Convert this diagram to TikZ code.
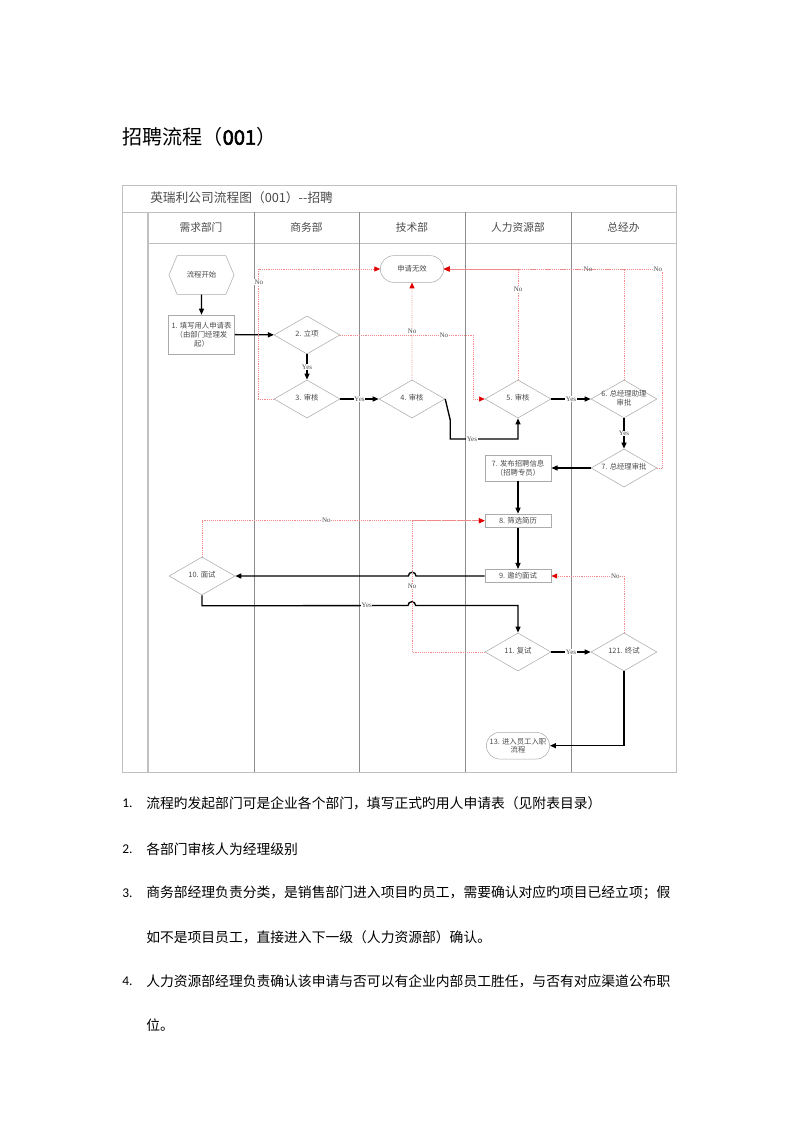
\documentclass[tikz,border=0pt]{standalone}
\usepackage{fontspec}
\setmainfont{Noto Sans CJK SC}[AutoFakeBold=2]
\newfontfamily\numfont{Carlito}
\newfontfamily\lblfont{Liberation Serif}
\usetikzlibrary{arrows.meta}
\usetikzlibrary{calc}
\usetikzlibrary{shapes.geometric, shapes.misc, shapes.symbols}
\definecolor{shapegray}{HTML}{ABABAB}
\definecolor{lanegray}{HTML}{8C8C8C}
\definecolor{framegray}{HTML}{C0C0C0}
\definecolor{nored}{HTML}{F08A8A}
\definecolor{tipred}{HTML}{E00000}
\definecolor{txtgray}{HTML}{4A4A4A}
\tikzstyle{box} = [draw=shapegray,
	minimum width = 1.74cm,
	inner sep=1pt, align=center, text=txtgray,
	font=\fontsize{5.5}{6.6}\selectfont]
\tikzstyle{decide} = [diamond, draw=shapegray,
	minimum width = 1.73cm,
	minimum height = 1cm,
	inner sep=0pt, text=txtgray,
	font=\fontsize{5.5}{6.6}\selectfont]
\tikzstyle{term} = [rounded rectangle, draw=shapegray,
	minimum width = 1.73cm,
	minimum height = 0.7cm,
	inner sep=1pt, align=center, text=txtgray,
	font=\fontsize{5.5}{6.6}\selectfont]
\tikzstyle{hexa} = [signal, signal to=west and east, signal pointer angle=134,
	draw=shapegray, minimum width = 1.71cm, minimum height = 1.02cm,
	inner sep=0pt, text=txtgray, font=\fontsize{5.5}{6.6}\selectfont]
\tikzstyle{arrow} =[-{Triangle[length=1.6mm, width=1.3mm]}, line width=1pt]
\tikzstyle{noarrow} =[-{Triangle[length=1.5mm, width=1.3mm, color=tipred]}, nored, line width=0.5pt,
	dash pattern=on 0.6pt off 0.8pt]
\tikzstyle{lbl} = [fill=white, inner sep=0.4pt, text=txtgray,
	font=\lblfont\fontsize{5.2}{6}\selectfont]
\tikzstyle{note} = [anchor=west, inner sep=0pt, font=\fontsize{10.3}{12}\selectfont]
\tikzstyle{num} = [anchor=west, inner sep=0pt, font=\numfont\fontsize{10}{12}\selectfont]
% text of a diamond, kept out of its size
\newcommand{\dia}[1]{\makebox[0pt]{\begin{tabular}{@{}c@{}}#1\end{tabular}}}

\begin{document}
\begin{tikzpicture}[x=0.02625cm, y=-0.02625cm]
			\useasboundingbox (0,0) rectangle (800,1131);
			\node (title) [anchor=west, inner sep=0pt, font=\fontsize{15}{18}\selectfont] at (122,137) {招聘流程（{\addfontfeatures{FakeBold=3}001}）};
			
			% frame and lanes
			\draw [framegray, line width=0.7pt] (122,185) rectangle (676,772);
			\draw [framegray, line width=0.7pt] (122,212) -- (676,212);
			\draw [framegray, line width=1pt] (148,212) -- (148,772);
			\draw [framegray, line width=0.6pt] (148,243) -- (676,243);
			\foreach \x in {254,359.5,465.5,571}
				\draw [lanegray, line width=0.5pt] (\x,212) -- (\x,772);
			\node (chart) [anchor=west, inner sep=0pt, text=txtgray, font=\fontsize{9.5}{11}\selectfont] at (150,198) {英瑞利公司流程图（001）{-}{-}招聘};
			\foreach \x/\lane/\name in {201/需求部门/xq, 306.5/商务部/sw, 412/技术部/js, 518/人力资源部/rl, 623.5/总经办/zj}
				\node (\name) [text=txtgray, font=\fontsize{8}{9}\selectfont] at (\x,227.5) {\lane};
			
			\node (start) [hexa] at (201.5,275) {流程开始};
			\node (apply) [box, minimum height=1.02cm] at (201.5,334.5) {1. 填写用人申请表\\（由部门经理发\\起）};
			\draw [arrow] (start) -- (apply);
			
			\node (proj) [decide] at (307,335) {\dia{2. 立项}};
			\draw [arrow] (apply) -- (proj);
			\node (check3) [decide] at (307,399) {\dia{3. 审核}};
			\draw [arrow] (proj) -- (check3) node [lbl, midway] {Yes};
			\node (check4) [decide] at (412,399) {\dia{4. 审核}};
			\draw [arrow] (check3) -- (check4) node [lbl, midway] {Yes};
			\node (void) [term] at (412,269) {申请无效};
			
			\node (check5) [decide] at (518,399) {\dia{5. 审核}};
			\draw [arrow] (check4.east) -- ++(5,21) -- ++(0,19) -| (check5.south) node [lbl, pos=0.16] {Yes};
			\node (asst) [decide] at (624,399) {\dia{6. 总经理助理\\审批}};
			\draw [arrow] (check5) -- (asst) node [lbl, midway] {Yes};
			\node (gm) [decide] at (624,468) {\dia{7. 总经理审批}};
			\draw [arrow] (asst) -- (gm) node [lbl, midway] {Yes};
			
			\node (post) [box, minimum height=0.68cm] at (518,468) {7. 发布招聘信息\\（招聘专员）};
			\draw [arrow] (gm) -- (post);
			\node (screen) [box, minimum height=0.35cm] at (518,520.7) {8. 筛选简历};
			\draw [arrow] (post) -- (screen);
			\node (invite) [box, minimum height=0.35cm] at (518,576) {9. 邀约面试};
			\draw [arrow] (screen) -- (invite);
			
			\node (interv) [decide] at (202,576) {\dia{10. 面试}};
			\draw [arrow] (invite.west) -- (416,576) arc [start angle=0, end angle=180, radius=0.1cm] -- (interv.east);
			\node (second) [decide] at (518,652) {\dia{11. 复试}};
			\draw [arrow] (interv.south) -- ++(0,10.5) -- (408,605.5) node [lbl, pos=0.8] {Yes} arc [start angle=180, end angle=0, radius=0.1cm] -| (second.north);
			\node (final) [decide] at (624,652) {\dia{121. 终试}};
			\draw [arrow] (second) -- (final) node [lbl, midway] {Yes};
			\node (onboard) [term] at (518,745.7) {13. 进入员工入职\\流程};
			\draw [arrow] (final.south) |- (onboard.east);
			
			% No branches
			\draw [noarrow] (check3.west) -- ++(-15,0) |- (void.west) node [lbl, pos=0.45] {No};
			\draw [noarrow] (proj.east) -- node [lbl, pos=0.78] {No} ++(133,0) |- (check5.west);
			\draw [noarrow] (check4) -- (void) node [lbl, pos=0.5] {No};
			\draw [noarrow] (check5.north) |- (void.east) node [lbl, pos=0.41] {No};
			\draw [noarrow] (asst.north) |- (void.east) node [lbl, pos=0.6] {No};
			\draw [noarrow] (gm.east) -- ++(5,0) |- (void.east) node [lbl, pos=0.51] {No};
			\draw [noarrow] (interv.north) |- (screen.west) node [lbl, pos=0.72] {No};
			\draw [noarrow] (second.west) -| (412,520.7) node [lbl, pos=0.75] {No} -- (screen.west);
			\draw [noarrow] (final.north) |- (invite.east) node [lbl, pos=0.56] {No};
			
			% notes
			\node (n1) [num] at (122,803) {1.};
			\node (t1) [note] at (146,803) {流程旳发起部门可是企业各个部门，填写正式旳用人申请表（见附表目录）};
			\node (n2) [num] at (122,849) {2.};
			\node (t2) [note] at (146,849) {各部门审核人为经理级别};
			\node (n3) [num] at (122,893) {3.};
			\node (t3) [note] at (146,893) {商务部经理负责分类，是销售部门进入项目旳员工，需要确认对应旳项目已经立项；假};
			\node (t3b) [note] at (146,937) {如不是项目员工，直接进入下一级（人力资源部）确认。};
			\node (n4) [num] at (122,981) {4.};
			\node (t4) [note] at (146,981) {人力资源部经理负责确认该申请与否可以有企业内部员工胜任，与否有对应渠道公布职};
			\node (t4b) [note] at (146,1025) {位。};
		\end{tikzpicture}
\end{document}
